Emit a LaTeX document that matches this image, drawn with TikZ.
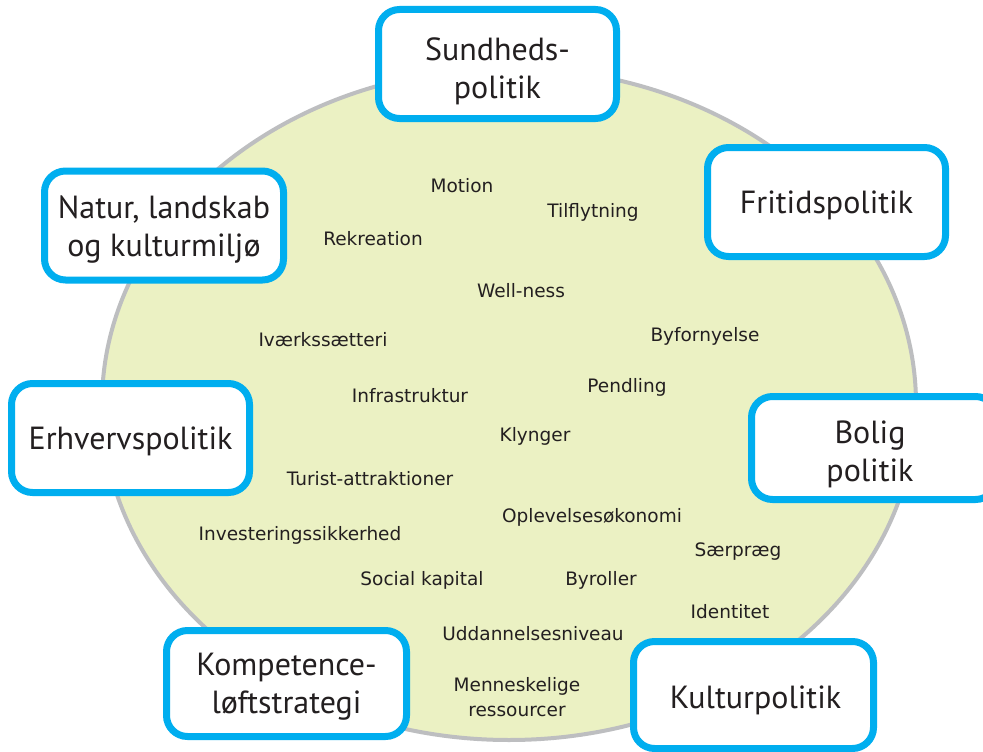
\documentclass[tikz,border=0pt]{standalone}
\usepackage{fontspec}
\usetikzlibrary{shapes.geometric}
\setmainfont{PT Sans}
\newfontfamily\smallfont{DejaVu Sans}
\definecolor{cyanline}{HTML}{00AEEF}
\definecolor{ovalfill}{HTML}{EBF1C3}
\definecolor{ovalline}{HTML}{BDBEC0}
\definecolor{txt}{HTML}{231F20}
\tikzset{
  polbox/.style={draw=cyanline, line width=7pt, fill=white, rounded corners=21pt,
    minimum width=238pt, minimum height=109pt, inner sep=0pt},
  boxtext/.style={align=center, text=txt, font=\fontsize{32}{38}\selectfont, inner sep=0pt},
  topic/.style={text=txt, font=\smallfont\fontsize{18.5}{25}\selectfont, align=center, inner sep=0pt}
}
\begin{document}
\begin{tikzpicture}[x=1pt,y=-1pt]
\useasboundingbox (0,0) rectangle (983,752);
\fill[white] (0,0) rectangle (983,752);
\node[ellipse, draw=ovalline, fill=ovalfill, line width=4pt, minimum width=814pt, minimum height=672pt, inner sep=0pt] (oval) at (509,404) {};
% topics
\node[topic] (t1) at (462,186) {Motion};
\node[topic] (t2) at (593,212) {Tilflytning};
\node[topic] (t3) at (373,239) {Rekreation};
\node[topic] (t4) at (521,291) {Well-ness};
\node[topic] (t5) at (323,340) {Iværkssætteri};
\node[topic] (t6) at (705,336) {Byfornyelse};
\node[topic] (t7) at (410,396) {Infrastruktur};
\node[topic] (t8) at (627,387) {Pendling};
\node[topic] (t9) at (535,436) {Klynger};
\node[topic] (t10) at (370,479) {Turist-attraktioner};
\node[topic] (t11) at (592,517) {Oplevelsesøkonomi};
\node[topic] (t12) at (300,535) {Investeringssikkerhed};
\node[topic] (t13) at (738,552) {Særpræg};
\node[topic] (t14) at (422,580) {Social kapital};
\node[topic] (t15) at (601,580) {Byroller};
\node[topic] (t16) at (730,612) {Identitet};
\node[topic] (t17) at (533,634) {Uddannelsesniveau};
\node[topic] (t18) at (517,697) {Menneskelige\\ressourcer};
% policy boxes
\node[polbox] (sund) at (497.5,64) {};
\node[boxtext] (sundt) at (497.5,71) {Sundheds-\\politik};
\node[polbox, minimum width=239pt] (natur) at (164,225.5) {};
\node[boxtext] (naturt) at (164,229.5) {Natur, landskab\\og kulturmiljø};
\node[polbox] (erhv) at (130.5,438) {};
\node[boxtext] (erhvt) at (130.5,441) {Erhvervspolitik};
\node[polbox] (frit) at (826.5,202) {};
\node[boxtext] (fritt) at (826.5,205) {Fritidspolitik};
\node[polbox, minimum width=245pt, minimum height=103pt] (bolig) at (874,448) {};
\node[boxtext] (boligt) at (870,454) {Bolig\\politik};
\node[polbox, minimum width=240pt, minimum height=106pt] (komp) at (286.5,683.5) {};
\node[boxtext] (kompt) at (286.5,686.5) {Kompetence-\\løftstrategi};
\node[polbox, minimum width=240pt, minimum height=107pt] (kult) at (753.5,695) {};
\node[boxtext] (kultt) at (755.5,700) {Kulturpolitik};
\end{tikzpicture}
\end{document}
